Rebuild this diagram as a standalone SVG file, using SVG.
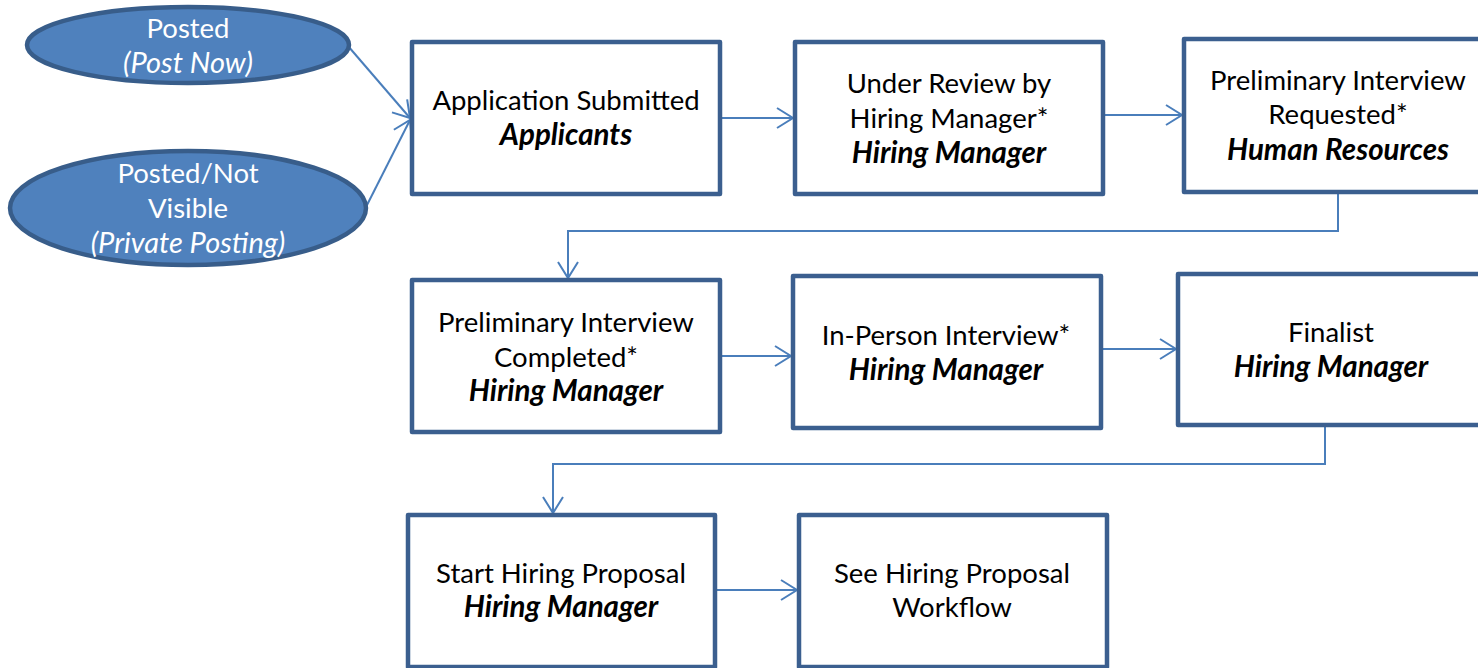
<svg xmlns="http://www.w3.org/2000/svg" width="1478" height="668" viewBox="0 0 1478 668">
  <style>
    .box { fill: #ffffff; stroke: #3b5f8f; stroke-width: 4.5; stroke-linejoin: round; }
    .oval { fill: #4f81bd; stroke: #385d8a; stroke-width: 4.5; }
    .link { fill: none; stroke: #4a7ebb; stroke-width: 2; }
    text { font-family: Lato, "Liberation Sans", sans-serif; font-size: 27.5px; text-anchor: middle; fill: #000000; }
    .w { fill: #ffffff; }
    .it { font-style: italic; font-size: 29px; }
    .bi { font-style: italic; font-weight: bold; font-size: 29.5px; }
  </style>
  <defs>
    <marker id="arrow" markerUnits="userSpaceOnUse" markerWidth="20" markerHeight="24" refX="17" refY="11" orient="auto" overflow="visible">
      <path d="M1,1 L17,11 L1,21" fill="none" stroke="#4a7ebb" stroke-width="2"/>
    </marker>
  </defs>

  <rect width="1478" height="668" fill="#ffffff"/>

  <!-- connectors -->
  <g id="connectors">
    <line class="link" x1="348" y1="46" x2="410" y2="118" marker-end="url(#arrow)"/>
    <line class="link" x1="366" y1="207" x2="410" y2="120" marker-end="url(#arrow)"/>
    <line class="link" x1="722" y1="118" x2="793" y2="118" marker-end="url(#arrow)"/>
    <line class="link" x1="1104" y1="115" x2="1182" y2="115" marker-end="url(#arrow)"/>
    <polyline class="link" points="1338,194 1338,231 568,231 568,278" marker-end="url(#arrow)"/>
    <line class="link" x1="722" y1="356" x2="791" y2="356" marker-end="url(#arrow)"/>
    <line class="link" x1="1103" y1="349" x2="1176" y2="349" marker-end="url(#arrow)"/>
    <polyline class="link" points="1325,427 1325,464 553,464 553,513" marker-end="url(#arrow)"/>
    <line class="link" x1="717" y1="590" x2="797" y2="590" marker-end="url(#arrow)"/>
  </g>

  <!-- start states -->
  <g id="posted">
    <ellipse class="oval" cx="188" cy="45" rx="161" ry="38"/>
    <text class="w" x="188" y="38">Posted</text>
    <text class="w it" x="188" y="73">(Post Now)</text>
  </g>
  <g id="posted-not-visible">
    <ellipse class="oval" cx="188" cy="208" rx="178" ry="57"/>
    <text class="w" x="188" y="183">Posted/Not</text>
    <text class="w" x="188" y="218">Visible</text>
    <text class="w it" x="188" y="253">(Private Posting)</text>
  </g>

  <!-- row 1 -->
  <g id="application-submitted">
    <rect class="box" x="412" y="42" width="308" height="152"/>
    <text x="566" y="110">Application Submitted</text>
    <text class="bi" x="566" y="145">Applicants</text>
  </g>
  <g id="under-review">
    <rect class="box" x="795" y="42" width="308" height="152"/>
    <text x="949" y="93">Under Review by</text>
    <text x="949" y="128">Hiring Manager*</text>
    <text class="bi" x="949" y="163">Hiring Manager</text>
  </g>
  <g id="prelim-requested">
    <rect class="box" x="1184" y="39" width="308" height="153"/>
    <text x="1338" y="90">Preliminary Interview</text>
    <text x="1338" y="124">Requested*</text>
    <text class="bi" x="1338" y="160">Human Resources</text>
  </g>

  <!-- row 2 -->
  <g id="prelim-completed">
    <rect class="box" x="412" y="280" width="308" height="152"/>
    <text x="566" y="332">Preliminary Interview</text>
    <text x="566" y="367">Completed*</text>
    <text class="bi" x="566" y="401">Hiring Manager</text>
  </g>
  <g id="in-person">
    <rect class="box" x="793" y="276" width="308" height="152"/>
    <text x="946" y="345">In-Person Interview*</text>
    <text class="bi" x="946" y="380">Hiring Manager</text>
  </g>
  <g id="finalist">
    <rect class="box" x="1178" y="274" width="308" height="151"/>
    <text x="1331" y="342">Finalist</text>
    <text class="bi" x="1331" y="377">Hiring Manager</text>
  </g>

  <!-- row 3 -->
  <g id="start-proposal">
    <rect class="box" x="408" y="515" width="307" height="152"/>
    <text x="561" y="583">Start Hiring Proposal</text>
    <text class="bi" x="561" y="617">Hiring Manager</text>
  </g>
  <g id="see-proposal">
    <rect class="box" x="799" y="515" width="308" height="152"/>
    <text x="952" y="583">See Hiring Proposal</text>
    <text x="952" y="617">Workflow</text>
  </g>
</svg>
